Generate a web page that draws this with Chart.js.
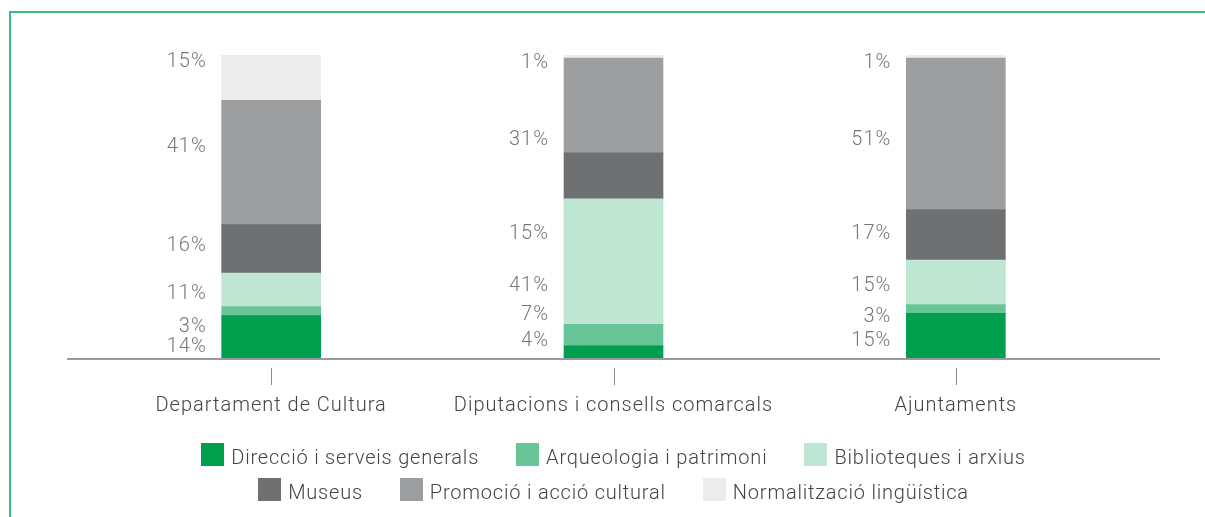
<!DOCTYPE html>
<html lang="ca">
<head>
<meta charset="utf-8">
<title>Distribució de la despesa cultural</title>
<script src="https://cdn.jsdelivr.net/npm/chart.js@4.4.1/dist/chart.umd.min.js"></script>
<style>
  html, body { margin: 0; padding: 0; background: #fff; }
  body { width: 1205px; height: 517px; position: relative; overflow: hidden; font-family: Roboto, "Liberation Sans", sans-serif; font-weight: 300; }
  .frame { position: absolute; left: 9px; top: 11px; right: 0; bottom: 0; border-top: 2px solid #3ebc7d; border-left: 2px solid #3ebc7d; }
  .chart-box { position: absolute; left: 0; top: 0; width: 1205px; height: 460px; }
  #legend { position: absolute; left: 0; top: 443px; width: 1227px; }
  .legend-row { display: flex; justify-content: center; gap: 37px; height: 35px; }
  .legend-item { display: flex; align-items: flex-start; font-size: 20px; letter-spacing: 0.8px; color: #454545; line-height: 23px; white-space: nowrap; }
  .legend-item .sw { width: 23px; height: 23px; margin-right: 7px; flex: none; }
  .legend-item span { position: relative; top: 3px; }
</style>
</head>
<body>
<div class="frame"></div>
<div class="chart-box"><canvas id="despesa-chart"></canvas></div>
<div id="legend"></div>

<script>
// Categories (x axis)
const categories = ["Departament de Cultura", "Diputacions i consells comarcals", "Ajuntaments"];

// Series names, bottom to top of each bar
const seriesNames = [
  "Direcció i serveis generals",
  "Arqueologia i patrimoni",
  "Biblioteques i arxius",
  "Museus",
  "Promoció i acció cultural",
  "Normalització lingüística"
];

// Percentages shown in the labels, one per category
const direccio      = [14, 4, 15];
const arqueologia   = [3, 7, 3];
const biblioteques  = [11, 41, 15];
const museus        = [16, 15, 17];
const promocio      = [41, 31, 51];
const normalitzacio = [15, 1, 1];

const seriesValues = [direccio, arqueologia, biblioteques, museus, promocio, normalitzacio];
const seriesColors = ["#009e4f", "#67c598", "#bfe6d3", "#6f7072", "#9d9ea0", "#ebeceb"];

// Where each percent label sits, in y-axis units (0-100), per category
const labelAnchors = [
  [3.6, 5.6, 5.6],
  [10.2, 14.1, 13.5],
  [21.1, 23.7, 23.7],
  [36.8, 40.8, 40.8],
  [69.7, 72, 72],
  [97.7, 97.4, 97.4]
];

// Legend layout: two rows of three
const legendRows = [[0, 1, 2], [3, 4, 5]];

const FONT = "Roboto, 'Liberation Sans', sans-serif";

// Each bar is shown as 100% of its total
const totals = categories.map((_, i) => seriesValues.reduce((s, arr) => s + arr[i], 0));

const datasets = seriesNames.map((name, d) => ({
  label: name,
  data: seriesValues[d].map((v, i) => v / totals[i] * 100),
  backgroundColor: seriesColors[d],
  borderWidth: 0,
  barThickness: 99
}));

// Wider letter spacing to match the light grotesque of the original
const spacing = {
  id: "spacing",
  beforeDraw(chart) {
    chart.ctx.letterSpacing = "1px";
  }
};

// Axis line (wider than the plot area) plus small detached tick marks
const axisPlugin = {
  id: "axisDecor",
  afterDraw(chart) {
    const ctx = chart.ctx;
    const xScale = chart.scales.x;
    const y0 = chart.scales.y.getPixelForValue(0);
    ctx.save();
    ctx.strokeStyle = "#9a9a9a";
    ctx.lineWidth = 2;
    ctx.beginPath();
    ctx.moveTo(67, y0 + 1);
    ctx.lineTo(1160, y0 + 1);
    ctx.stroke();

    ctx.strokeStyle = "#8a8a8a";
    ctx.lineWidth = 1;
    xScale.ticks.forEach((t, i) => {
      const x = Math.round(xScale.getPixelForTick(i)) + 0.5;
      ctx.beginPath();
      ctx.moveTo(x, y0 + 10);
      ctx.lineTo(x, y0 + 27);
      ctx.stroke();
    });
    ctx.restore();
  }
};

// Percent labels to the left of each bar
const percentLabels = {
  id: "percentLabels",
  afterDatasetsDraw(chart) {
    const ctx = chart.ctx;
    const yScale = chart.scales.y;
    ctx.save();
    ctx.font = "300 20px " + FONT;
    ctx.letterSpacing = "1px";
    ctx.fillStyle = "#777777";
    ctx.textAlign = "right";
    ctx.textBaseline = "middle";
    chart.data.datasets.forEach((ds, d) => {
      const meta = chart.getDatasetMeta(d);
      meta.data.forEach((bar, i) => {
        const x = bar.x - bar.width / 2 - 15;
        const y = yScale.getPixelForValue(labelAnchors[d][i]);
        ctx.fillText(seriesValues[d][i] + "%", x, y);
      });
    });
    ctx.restore();
  }
};

const chart = new Chart(document.getElementById("despesa-chart"), {
  type: "bar",
  data: { labels: categories, datasets },
  options: {
    responsive: true,
    maintainAspectRatio: false,
    animation: false,
    layout: { padding: { left: 100, right: 78, top: 55, bottom: 6 } },
    plugins: {
      legend: { display: false },
      tooltip: { enabled: false }
    },
    scales: {
      x: {
        stacked: true,
        grid: { display: false, drawTicks: false },
        border: { display: false },
        ticks: {
          padding: 36,
          color: "#444444",
          font: { family: FONT, size: 20, weight: 300 }
        }
      },
      y: {
        stacked: true,
        display: false,
        min: 0,
        max: 100
      }
    }
  },
  plugins: [spacing, axisPlugin, percentLabels]
});

// HTML legend built from the chart datasets
function buildLegend() {
  const box = document.getElementById("legend");
  box.innerHTML = "";
  legendRows.forEach(row => {
    const rowEl = document.createElement("div");
    rowEl.className = "legend-row";
    row.forEach(d => {
      const ds = chart.data.datasets[d];
      const item = document.createElement("div");
      item.className = "legend-item";
      item.innerHTML = `<div class="sw" style="background:${ds.backgroundColor}"></div><span>${ds.label}</span>`;
      rowEl.appendChild(item);
    });
    box.appendChild(rowEl);
  });
}

buildLegend();
</script>
</body>
</html>
